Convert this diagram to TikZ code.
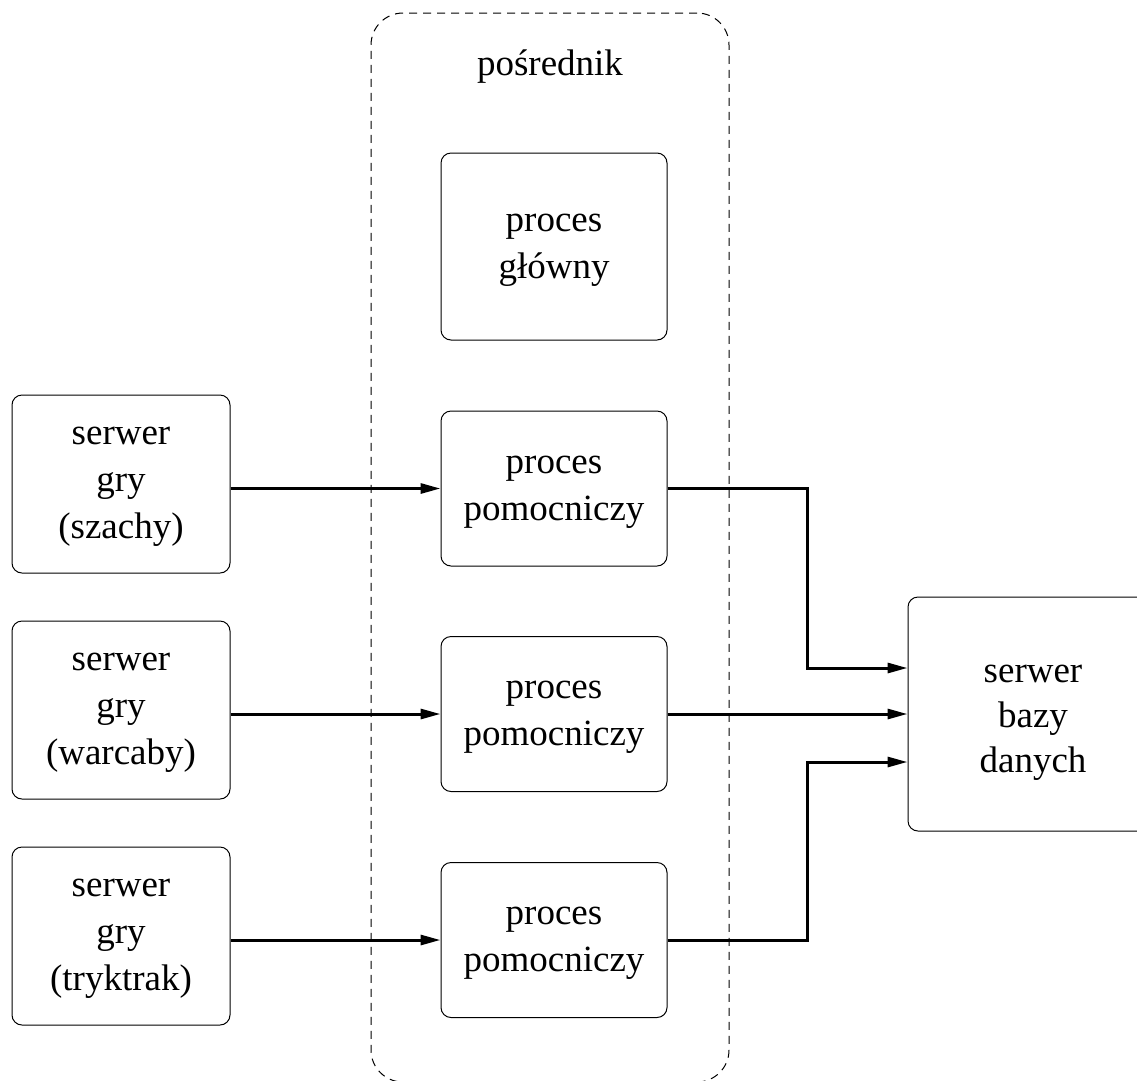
\documentclass[tikz,border=0pt]{standalone}
\usepackage{fontspec}
\setmainfont{Liberation Serif}
\usetikzlibrary{arrows.meta}
\tikzset{
  box/.style={draw, line width=1pt, rounded corners=10pt, align=center, inner sep=0pt},
  srv/.style={box, minimum width=218pt, minimum height=178pt,
    font=\fontsize{37}{47}\selectfont, text height=120pt, text depth=12pt},
  proc/.style={box, minimum width=226pt, minimum height=155pt,
    font=\fontsize{37}{47}\selectfont, text height=75pt, text depth=12pt},
  dbbox/.style={box, minimum width=250pt, minimum height=234pt,
    font=\fontsize{37}{45}\selectfont, text height=128pt, text depth=12pt},
  conn/.style={line width=3pt, -{Triangle[length=20pt,width=10pt]}},
  brokerbox/.style={draw, dashed, dash pattern=on 8pt off 6pt, line width=1pt, rounded corners=32pt,
    minimum width=358pt, minimum height=1069pt, inner sep=0pt}
}
\begin{document}
\begin{tikzpicture}[x=1pt,y=-1pt]
\useasboundingbox (0,0) rectangle (1137,1080);
\clip (0,0) rectangle (1137,1080);
\node[brokerbox] (broker) at (550,547.5) {};
\node[font=\fontsize{37}{47}\selectfont, anchor=base] (lbl) at (550,75) {pośrednik};
\node[proc, minimum height=187pt] (main) at (554,246.5) {proces\\główny};
\node[proc] (p1) at (554,488.5) {proces\\pomocniczy};
\node[proc] (p2) at (554,714) {proces\\pomocniczy};
\node[proc] (p3) at (554,940) {proces\\pomocniczy};
\node[srv] (s1) at (121,484) {serwer\\gry\\(szachy)};
\node[srv] (s2) at (121,710) {serwer\\gry\\(warcaby)};
\node[srv] (s3) at (121,936) {serwer\\gry\\(tryktrak)};
\node[dbbox] (db) at (1033,714) {serwer\\bazy\\danych};
\draw[conn] (p1.west -| s1.east) -- (p1.west);
\draw[conn] (p2.west -| s2.east) -- (p2.west);
\draw[conn] (p3.west -| s3.east) -- (p3.west);
\draw[conn] (p1.east) -- ++(140,0) |- ([yshift=46pt]db.west);
\draw[conn] (p2.east) -- (db.west);
\draw[conn] (p3.east) -- ++(140,0) |- ([yshift=-48pt]db.west);
\end{tikzpicture}
\end{document}
